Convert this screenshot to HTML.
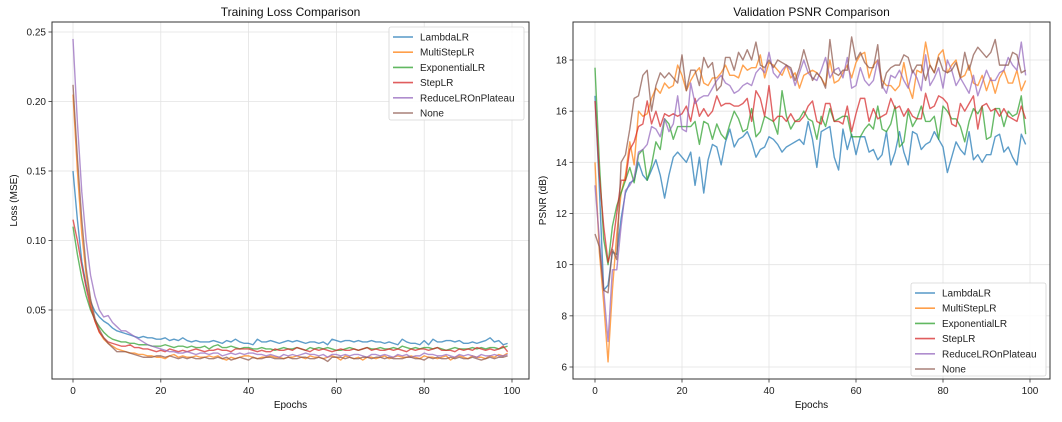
<!DOCTYPE html>
<html><head><meta charset="utf-8">
<style>
html,body{margin:0;padding:0;background:#fff;}
svg{display:block;font-family:"Liberation Sans","DejaVu Sans",sans-serif;}
</style></head>
<body>
<svg id="chart" width="1062" height="422" viewBox="0 0 1062 422" xmlns="http://www.w3.org/2000/svg"></svg>
<script>
const epochsMax = 100;
const seriesNames = ["LambdaLR","MultiStepLR","ExponentialLR","StepLR","ReduceLROnPlateau","None"];
const lossTicks = [0.05,0.10,0.15,0.20,0.25];
const psnrTicks = [6,8,10,12,14,16,18];
const epochTicks = [0,20,40,60,80,100];

const lossLambda = [.150,.115,.085,.068,.056,.049,.045,.042,.040,.037,.035,.034,.033,.032,.031,.030,.031,.030,.030,.029,.029,.030,.028,.029,.028,.030,.028,.027,.028,.027,.027,.027,.028,.027,.026,.028,.027,.029,.027,.026,.026,.025,.029,.027,.027,.028,.027,.026,.027,.028,.027,.028,.027,.026,.027,.027,.026,.027,.025,.029,.028,.027,.028,.028,.027,.028,.027,.027,.028,.027,.027,.026,.027,.026,.025,.029,.027,.026,.026,.025,.028,.025,.029,.027,.027,.028,.028,.027,.028,.026,.026,.027,.026,.027,.028,.030,.027,.028,.025,.026];
const lossMultiStep = [.205,.150,.105,.075,.055,.042,.034,.029,.026,.024,.022,.021,.020,.019,.019,.018,.018,.017,.017,.016,.016,.015,.017,.018,.016,.017,.016,.016,.017,.016,.016,.017,.016,.017,.015,.014,.016,.015,.016,.017,.017,.016,.015,.016,.016,.017,.016,.016,.015,.016,.016,.017,.016,.015,.017,.016,.016,.015,.016,.017,.016,.014,.017,.016,.015,.016,.014,.016,.016,.015,.016,.017,.015,.016,.017,.016,.016,.017,.016,.015,.017,.016,.016,.015,.016,.017,.014,.016,.017,.016,.015,.017,.016,.016,.015,.017,.016,.018,.017,.019];
const lossExponential = [.110,.090,.073,.060,.050,.043,.038,.034,.031,.029,.028,.027,.027,.026,.026,.025,.025,.025,.024,.024,.024,.025,.024,.023,.024,.024,.023,.024,.023,.023,.024,.022,.024,.025,.023,.023,.024,.023,.022,.023,.023,.022,.022,.023,.022,.022,.021,.022,.023,.022,.022,.023,.022,.021,.023,.022,.023,.022,.023,.022,.021,.021,.022,.023,.022,.021,.022,.023,.022,.022,.023,.022,.022,.023,.022,.024,.023,.022,.023,.022,.023,.023,.022,.023,.022,.021,.022,.023,.022,.022,.022,.023,.022,.023,.022,.023,.023,.022,.023,.024];
const lossStep = [.115,.100,.082,.066,.052,.042,.034,.030,.027,.026,.025,.024,.024,.025,.023,.023,.022,.022,.021,.020,.021,.020,.022,.021,.020,.021,.020,.021,.022,.021,.020,.021,.021,.022,.021,.021,.020,.022,.022,.022,.022,.021,.020,.021,.020,.020,.022,.021,.021,.022,.021,.023,.022,.021,.020,.022,.021,.022,.021,.020,.021,.022,.021,.021,.022,.021,.022,.023,.021,.022,.021,.021,.022,.021,.022,.021,.020,.022,.021,.022,.022,.021,.022,.023,.021,.021,.021,.020,.022,.021,.022,.021,.023,.022,.021,.022,.021,.022,.024,.020];
const lossReduce = [.245,.185,.135,.100,.075,.060,.050,.045,.046,.041,.038,.035,.035,.033,.031,.029,.027,.025,.024,.023,.022,.021,.020,.020,.019,.019,.020,.019,.018,.019,.019,.018,.019,.019,.017,.018,.019,.018,.019,.018,.019,.019,.018,.018,.017,.018,.017,.016,.018,.017,.018,.017,.018,.019,.018,.018,.017,.018,.016,.018,.018,.017,.018,.017,.018,.018,.017,.016,.018,.018,.017,.018,.017,.016,.018,.017,.018,.016,.017,.017,.019,.018,.018,.017,.017,.018,.017,.016,.018,.017,.018,.017,.016,.018,.017,.017,.018,.017,.017,.018];
const lossNone = [.212,.160,.115,.080,.058,.044,.036,.030,.026,.023,.020,.020,.020,.019,.018,.017,.016,.016,.016,.017,.017,.016,.017,.016,.015,.016,.015,.016,.015,.015,.016,.015,.015,.016,.015,.016,.014,.015,.016,.015,.014,.016,.015,.015,.016,.016,.015,.015,.015,.016,.015,.015,.016,.016,.015,.015,.016,.015,.013,.016,.016,.016,.015,.016,.015,.015,.016,.016,.015,.016,.016,.015,.016,.015,.015,.015,.016,.016,.015,.015,.014,.016,.015,.016,.015,.015,.016,.015,.016,.015,.015,.016,.015,.014,.015,.016,.015,.016,.016,.017];

const psnrLambda = [16.6,13.0,9.0,9.2,10.5,10.4,11.8,12.8,13.2,13.3,14.0,13.5,13.3,13.7,14.1,13.5,12.6,13.5,14.2,14.4,14.2,14.0,14.4,13.1,14.2,12.8,14.1,14.7,14.6,13.9,14.8,15.3,14.6,14.9,15.0,15.2,14.8,14.2,14.5,14.6,15.0,14.9,14.7,14.4,14.6,14.7,14.8,14.9,14.7,15.6,14.9,13.8,15.2,15.3,15.4,14.2,13.7,15.3,14.5,15.1,14.3,15.0,15.0,14.4,14.5,14.1,14.3,15.2,13.9,14.4,15.2,14.4,13.9,15.2,15.1,14.5,14.7,14.8,15.2,14.9,14.6,13.6,14.2,14.8,14.5,14.3,15.2,14.1,14.3,14.0,14.3,14.3,15.0,15.1,14.4,14.6,14.2,13.9,15.1,14.7];
const psnrMultiStep = [14.0,10.5,8.5,6.2,9.0,11.2,12.8,13.5,14.8,13.9,16.0,15.8,15.9,16.5,16.9,16.7,17.1,16.9,17.0,17.8,17.4,16.8,17.2,17.5,17.7,17.1,17.0,17.3,17.3,17.5,17.8,17.4,17.4,17.3,17.8,17.6,17.7,17.7,18.2,17.3,17.9,17.8,17.6,17.4,17.8,17.3,17.5,16.9,17.4,17.5,17.6,17.5,17.3,17.0,18.0,17.1,17.2,17.5,17.8,17.3,17.9,18.2,18.3,17.3,17.8,18.0,17.2,17.0,17.0,16.8,17.0,17.9,17.0,16.5,17.6,17.5,18.7,17.8,17.5,18.2,18.4,17.5,17.8,18.0,17.3,17.4,17.8,17.1,17.0,17.4,16.8,17.3,16.7,17.3,17.6,17.1,17.1,17.6,16.8,17.2];
const psnrExponential = [17.7,14.0,11.0,10.0,11.5,12.3,12.8,13.3,13.8,13.2,14.3,14.5,13.3,13.9,14.8,14.5,15.7,15.5,14.9,15.4,15.4,15.4,15.4,15.6,14.7,15.6,15.5,14.9,15.5,15.1,14.9,15.5,16.0,15.7,15.2,15.3,16.1,15.0,15.2,15.8,15.7,15.6,15.1,16.8,15.8,15.3,15.6,15.7,16.0,15.7,15.6,14.9,15.8,15.4,16.1,15.6,15.7,15.8,15.8,15.0,15.0,15.0,15.3,15.5,15.3,16.2,15.3,15.2,15.5,16.2,14.6,14.8,16.0,15.4,15.7,16.2,15.6,15.6,15.8,14.9,16.2,16.0,15.7,15.7,15.4,14.8,15.6,16.1,15.9,16.2,14.9,15.0,16.1,16.1,15.4,16.0,15.8,15.9,16.6,15.1];
const psnrStep = [16.4,13.5,11.5,10.1,10.7,12.0,13.3,13.3,14.5,14.8,15.4,15.5,16.4,15.5,16.0,15.4,15.9,15.8,15.9,15.8,15.9,16.2,15.6,16.5,15.8,16.1,15.8,16.0,16.6,16.2,16.3,16.3,16.2,16.2,16.3,16.5,15.6,16.8,16.5,15.8,17.0,15.6,15.8,15.8,15.6,15.9,15.6,15.6,15.8,16.2,16.4,15.6,15.5,16.3,16.3,15.6,15.6,15.5,16.2,15.2,15.9,16.5,16.5,15.6,16.1,15.7,15.8,15.9,16.5,16.1,16.2,15.8,16.1,15.8,15.7,15.7,16.7,16.1,16.2,16.6,16.5,16.3,15.5,15.4,16.3,16.0,16.3,16.6,15.3,16.2,16.3,16.0,16.1,15.8,16.1,15.8,15.7,15.6,16.2,15.7];
const psnrReduce = [13.1,11.0,9.0,7.0,9.8,9.8,11.5,12.9,13.1,13.4,14.4,14.5,14.7,15.4,15.3,15.0,15.7,15.2,15.5,16.6,15.3,15.2,17.1,16.3,16.5,16.6,16.6,16.9,17.2,17.4,17.1,17.0,16.7,16.8,17.0,17.1,17.0,17.5,17.7,17.5,18.3,17.5,17.3,17.6,17.8,17.6,17.0,17.5,18.0,17.5,17.3,17.2,17.6,18.1,17.3,17.6,17.7,17.3,18.1,16.9,17.0,17.7,17.2,17.0,17.2,18.0,17.0,16.7,17.4,17.3,17.6,17.2,16.9,17.6,17.3,16.8,18.2,17.0,17.3,17.7,16.9,18.0,17.6,17.0,17.3,17.0,16.7,17.4,16.6,17.1,17.6,17.2,17.2,17.5,17.6,18.1,17.8,17.6,18.7,17.4];
const psnrNone = [11.2,10.7,9.0,8.9,10.6,10.2,14.0,14.3,15.3,16.5,16.6,17.4,17.6,16.0,17.0,17.5,17.3,17.5,17.3,17.1,18.2,16.8,17.6,17.6,17.0,18.1,17.7,17.9,16.8,17.0,18.1,18.1,17.6,18.3,18.0,18.4,18.0,18.7,17.8,17.7,18.0,17.7,18.0,17.9,17.8,17.7,17.2,17.7,18.4,17.8,17.2,17.5,17.3,16.9,18.8,17.5,17.4,17.6,17.6,18.9,18.0,18.3,17.9,17.7,17.7,18.6,16.9,17.5,17.7,17.8,17.8,18.2,18.1,17.5,17.8,17.8,17.2,17.8,17.5,18.1,17.6,17.5,17.6,17.9,17.3,18.3,17.6,18.2,18.5,18.3,18.1,18.3,18.8,17.8,17.8,17.8,18.3,18.2,17.5,17.6];

const colors = ["#1f77b4","#ff7f0e","#2ca02c","#d62728","#9467bd","#8c564b"];
const NS = "http://www.w3.org/2000/svg";
const svg = document.getElementById("chart");
function mk(tag, attrs, parent){const e=document.createElementNS(NS,tag);for(const k in attrs)e.setAttribute(k,attrs[k]);(parent||svg).appendChild(e);return e;}

function drawPanel(cfg){
  const g = mk("g",{});
  
  
  const L=cfg.frame[0],T=cfg.frame[1],R=cfg.frame[2],B=cfg.frame[3];
  const xs = v => cfg.x0 + (v/epochsMax)*(cfg.x100-cfg.x0);
  const ys = v => cfg.yA + (v-cfg.vA)/(cfg.vB-cfg.vA)*(cfg.yB-cfg.yA);
  mk("rect",{x:L,y:T,width:R-L,height:B-T,fill:"#fff"},g);
  // grid + ticks
  epochTicks.forEach(t=>{
    const x=xs(t);
    const gl=mk("line",{x1:x,x2:x,y1:T,y2:B,stroke:"#e3e3e3","stroke-width":0.8},g);
    
    
    mk("line",{x1:x,x2:x,y1:B,y2:B+3.5,stroke:"#333","stroke-width":0.8},g);
    const tx=mk("text",{x:x,y:B+15,"font-size":10,"text-anchor":"middle",fill:"#222"},g);
    tx.textContent=t;
    
    
  });
  cfg.yTicks.forEach(t=>{
    const y=ys(t);
    const gl=mk("line",{x1:L,x2:R,y1:y,y2:y,stroke:"#e3e3e3","stroke-width":0.8},g);
    
    
    mk("line",{x1:L-3.5,x2:L,y1:y,y2:y,stroke:"#333","stroke-width":0.8},g);
    const tx=mk("text",{x:L-6,y:y+3.5,"font-size":10,"text-anchor":"end",fill:"#222"},g);
    tx.textContent=cfg.fmt(t);
    
    
  });
  cfg.series.forEach((arr,i)=>{
    const d=arr.map((v,j)=>(j?"L":"M")+xs(j).toFixed(2)+","+ys(v).toFixed(2)).join("");
    const p=mk("path",{d:d,fill:"none",stroke:colors[i],"stroke-width":1.4,"stroke-opacity":0.72,"stroke-linejoin":"round"},g);
    
    
  });
  const fr=mk("rect",{x:L,y:T,width:R-L,height:B-T,fill:"none",stroke:"#333","stroke-width":1},g);
  
  
  const ti=mk("text",{x:(L+R)/2,y:16,"font-size":12,"text-anchor":"middle",fill:"#111"},g);
  ti.textContent=cfg.title;
  
  
  const xl=mk("text",{x:(L+R)/2,y:408,"font-size":10,"text-anchor":"middle",fill:"#111"},g);
  xl.textContent="Epochs";
  
  
  const yl=mk("text",{x:0,y:0,"font-size":10,"text-anchor":"middle",fill:"#111",transform:"translate("+cfg.ylx+","+((T+B)/2)+") rotate(-90)"},g);
  yl.textContent=cfg.ylabel;
  
  
  // legend
  const lg=mk("g",{},g);
  
  
  const lx=cfg.legend[0], ly=cfg.legend[1];
  mk("rect",{x:lx,y:ly,width:135,height:93,rx:2,fill:"#fff","fill-opacity":0.85,stroke:"#d5d5d5","stroke-width":0.8},lg);
  seriesNames.forEach((n,i)=>{
    const yy=ly+10+i*15.2;
    const ent=mk("g",{},lg);
    
    
    mk("line",{x1:lx+4,x2:lx+24,y1:yy,y2:yy,stroke:colors[i],"stroke-width":1.6,"stroke-opacity":0.75},ent);
    const t=mk("text",{x:lx+31,y:yy+3.5,"font-size":10,fill:"#222"},ent);
    t.textContent=n;
  });
}

drawPanel({name:"training-loss-panel",title:"Training Loss Comparison",ylabel:"Loss (MSE)",ylx:17,
  frame:[52,22,529,379],x0:73,x100:512,vA:0.05,yA:310,vB:0.25,yB:32,yTicks:lossTicks,fmt:v=>v.toFixed(2),
  series:[lossLambda,lossMultiStep,lossExponential,lossStep,lossReduce,lossNone],legend:[389,27]});
drawPanel({name:"validation-psnr-panel",title:"Validation PSNR Comparison",ylabel:"PSNR (dB)",ylx:546,
  frame:[573,22,1050,379],x0:595,x100:1030,vA:6,yA:367,vB:18,yB:60,yTicks:psnrTicks,fmt:v=>String(v),
  series:[psnrLambda,psnrMultiStep,psnrExponential,psnrStep,psnrReduce,psnrNone],legend:[911,283]});
</script>
</body></html>
